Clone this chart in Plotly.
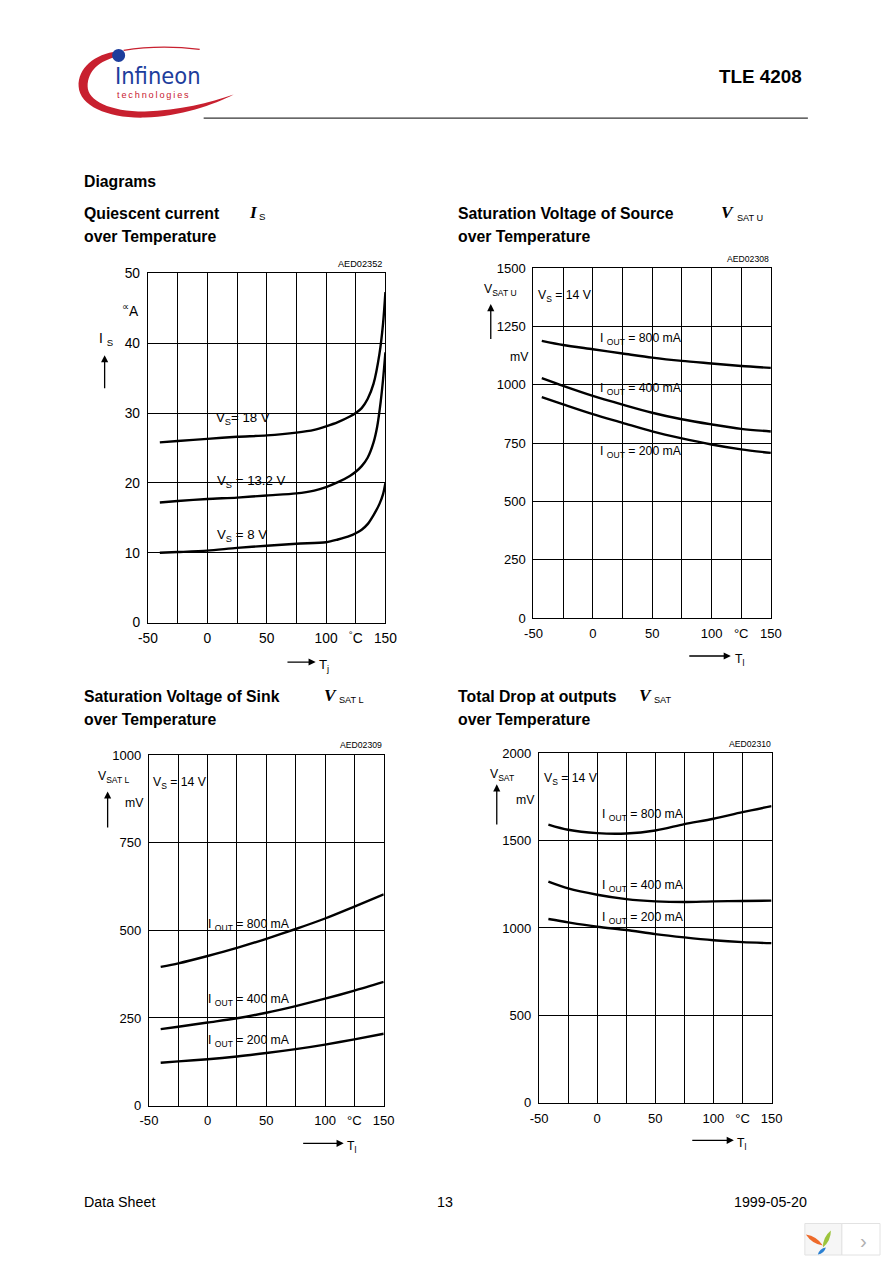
import plotly.graph_objects as go

W, H = 892, 1263
# the photographed page is slightly reduced and shifted; reference pixel -> page pixel
AX, BX = 0.975, 10.4
AY, BY = 0.9855, 8.7
FS = 1.02  # font compensation
FONT = "Liberation Sans, Arial, Helvetica, sans-serif"
SERIF = "Liberation Serif, Times New Roman, serif"
TS = 15.5  # title font size

# ---------------- data ----------------
# Chart 1: quiescent current I_S (uA) vs Tj
t_18v = [-40, -25, 0, 25, 50, 75, 90, 100, 110, 120, 125, 130, 135, 140, 145, 148, 150]
is_18v = [25.8, 26.0, 26.3, 26.6, 26.8, 27.2, 27.6, 28.1, 28.7, 29.5, 30.0, 30.7, 32.0, 34.2, 38.5, 42.8, 47.3]
t_132v = [-40, -25, 0, 25, 50, 75, 90, 100, 110, 120, 125, 130, 135, 140, 143, 146, 148, 150]
is_132v = [17.2, 17.4, 17.7, 17.9, 18.2, 18.5, 18.9, 19.4, 20.1, 21.0, 21.6, 22.4, 23.6, 25.8, 28.0, 31.6, 34.8, 38.7]
t_8v = [-40, -25, 0, 25, 50, 75, 100, 110, 120, 125, 130, 135, 140, 145, 148, 150]
is_8v = [10.0, 10.1, 10.3, 10.7, 11.0, 11.3, 11.5, 11.9, 12.4, 12.8, 13.3, 14.1, 15.4, 17.0, 18.4, 20.0]

# Chart 2: V_SAT U (mV) vs Tj
t_satu = [-43, -25, 0, 25, 50, 75, 100, 125, 150]
satu_800 = [1188, 1170, 1152, 1134, 1116, 1102, 1091, 1080, 1072]
satu_400 = [1028, 995, 952, 915, 880, 852, 830, 811, 800]
satu_200 = [947, 916, 874, 837, 800, 770, 744, 723, 708]

# Chart 3: V_SAT L (mV) vs Tj
t_satl = [-40, -25, 0, 25, 50, 75, 100, 125, 150]
satl_800 = [396, 406, 427, 450, 476, 504, 534, 568, 603]
satl_400 = [218, 225, 237, 249, 265, 284, 305, 328, 353]
satl_200 = [122, 126, 132, 140, 150, 161, 174, 189, 205]

# Chart 4: V_SAT total (mV) vs Tj
t_sat = [-42, -25, 0, 25, 50, 75, 100, 125, 150]
sat_800 = [1591, 1561, 1542, 1540, 1557, 1593, 1624, 1662, 1696]
sat_400 = [1265, 1226, 1190, 1165, 1152, 1148, 1152, 1154, 1156]
sat_200 = [1051, 1032, 1007, 988, 965, 946, 930, 919, 913]

x_ticks = [-50, 0, 50, 100, 125, 150]
x_ticktext_1 = ["-50", "0", "50", "100", "<sup>°</sup>C", "150"]
x_ticktext = ["-50", "0", "50", "100", "°C", "150"]
x_minor = [-25, 25, 75]


def PX(px):
    return ((px - BX) / AX) / W


def PY(py):
    return 1 - ((py - BY) / AY) / H


def fs(s):
    return s * FS


fig = go.Figure()

line_style = dict(color="black", width=2.4, shape="spline", smoothing=0.8)


def add_curve(x, y, ax):
    fig.add_trace(go.Scatter(x=x, y=y, mode="lines", line=line_style,
                             xaxis="x" + ax, yaxis="y" + ax,
                             hoverinfo="skip", showlegend=False))


add_curve(t_18v, is_18v, "")
add_curve(t_132v, is_132v, "")
add_curve(t_8v, is_8v, "")
add_curve(t_satu, satu_800, "2")
add_curve(t_satu, satu_400, "2")
add_curve(t_satu, satu_200, "2")
add_curve(t_satl, satl_800, "3")
add_curve(t_satl, satl_400, "3")
add_curve(t_satl, satl_200, "3")
add_curve(t_sat, sat_800, "4")
add_curve(t_sat, sat_400, "4")
add_curve(t_sat, sat_200, "4")


def xaxis(dom, anchor, ticktext, size):
    return dict(domain=[PX(dom[0]), PX(dom[1])], anchor=anchor, range=[-50, 150],
                tickmode="array", tickvals=x_ticks, ticktext=ticktext,
                showline=True, mirror=True, linecolor="black", linewidth=1.3,
                showgrid=True, gridcolor="black", gridwidth=1, zeroline=False,
                ticks="", ticklabelstandoff=3, fixedrange=True,
                minor=dict(tickmode="array", tickvals=x_minor, showgrid=True,
                           gridcolor="black", gridwidth=1, ticks=""),
                tickfont=dict(family=FONT, size=fs(size), color="black"))


def yaxis(dom, anchor, rng, dtick, size):
    return dict(domain=[PY(dom[1]), PY(dom[0])], anchor=anchor, range=rng,
                tickmode="linear", tick0=0, dtick=dtick,
                showline=True, mirror=True, linecolor="black", linewidth=1.3,
                showgrid=True, gridcolor="black", gridwidth=1, zeroline=False,
                ticks="", ticklabelstandoff=4, fixedrange=True,
                tickfont=dict(family=FONT, size=fs(size), color="black"))


fig.update_layout(
    width=W, height=H, margin=dict(l=0, r=0, t=0, b=0),
    paper_bgcolor="white", plot_bgcolor="white", showlegend=False,
    xaxis=xaxis((148.3, 385.7), "y", x_ticktext_1, 13.5),
    yaxis=yaxis((274.3, 622.7), "x", [0, 50], 10, 13.5),
    xaxis2=xaxis((533.7, 771), "y2", x_ticktext, 12.8),
    yaxis2=yaxis((269, 618.3), "x2", [0, 1500], 250, 12.8),
    xaxis3=xaxis((149.3, 384), "y3", x_ticktext, 12.8),
    yaxis3=yaxis((755, 1104.3), "x3", [0, 1000], 250, 12.8),
    xaxis4=xaxis((539.3, 771.7), "y4", x_ticktext, 12.8),
    yaxis4=yaxis((752.7, 1101.7), "x4", [0, 2000], 500, 12.8),
)

anns = []


def txt(px, py, text, size=12, xanchor="left", yanchor="middle", family=FONT,
        color="black"):
    anns.append(dict(x=PX(px), y=PY(py), xref="paper", yref="paper", text=text,
                     showarrow=False, xanchor=xanchor, yanchor=yanchor,
                     font=dict(family=family, size=fs(size), color=color), borderpad=0))


def arrow(hx, hy, tx, ty):
    anns.append(dict(x=PX(hx), y=PY(hy), xref="paper", yref="paper", text="",
                     showarrow=True, ax=(tx - hx) / AX, ay=(ty - hy) / AY,
                     axref="pixel", ayref="pixel",
                     arrowhead=2, arrowsize=1.1, arrowwidth=1.3, arrowcolor="black",
                     standoff=0, startstandoff=0))


# header
txt(803, 78, "<b>TLE 4208</b>", 18.5, xanchor="right")
txt(114, 78, "Infineon", 23, family="Liberation Sans Narrow, DejaVu Sans Condensed, Arial Narrow, sans-serif",
    color="#1d3d9c")
txt(116, 96, "t\u2009e\u2009c\u2009h\u2009n\u2009o\u2009l\u2009o\u2009g\u2009i\u2009e\u2009s", 9,
    color="#c8202f")

# section titles
txt(83, 183, "<b>Diagrams</b>", TS)
txt(83, 215, "<b>Quiescent current</b>", TS)
txt(83, 238, "<b>over Temperature</b>", TS)
txt(248, 214, "<b><i>I</i></b>", 17, family=SERIF)
txt(258, 218, "S", 9.5)

txt(457, 215, "<b>Saturation Voltage of Source</b>", TS)
txt(457, 238, "<b>over Temperature</b>", TS)
txt(720, 214, "<b><i>V</i></b>", 17, family=SERIF)
txt(736, 219, "SAT U", 9)

txt(83, 696, "<b>Saturation Voltage of Sink</b>", TS)
txt(83, 719, "<b>over Temperature</b>", TS)
txt(323, 695, "<b><i>V</i></b>", 17, family=SERIF)
txt(338, 700, "SAT L", 9)

txt(457, 696, "<b>Total Drop at outputs</b>", TS)
txt(457, 719, "<b>over Temperature</b>", TS)
txt(638, 695, "<b><i>V</i></b>", 17, family=SERIF)
txt(653, 700, "SAT", 9)

# chart codes
txt(383, 265, "AED02352", 9, xanchor="right")
txt(770, 260, "AED02308", 8.5, xanchor="right")
txt(383, 745, "AED02309", 8.5, xanchor="right")
txt(772, 744, "AED02310", 8.5, xanchor="right")

# chart 1 labels
txt(98, 340, "I <sub>S</sub>", 13.5)
arrow(105, 356, 105, 390)
txt(121, 311, "<sup>∝</sup>A", 13.5)
txt(215, 419, "V<sub>S</sub>= 18 V", 13)
txt(216, 482, "V<sub>S</sub> = 13.2 V", 13)
txt(216, 536, "V<sub>S</sub> = 8 V", 13)
arrow(316, 662, 287, 662)
txt(318, 665, "T<sub>j</sub>", 13)

# chart 2 labels
txt(483, 291, "V<sub>SAT U</sub>", 12)
arrow(491, 305, 491, 341)
txt(509, 358, "mV", 12)
txt(537, 297, "V<sub>S</sub> = 14 V", 12)
txt(599, 340, "I <sub>OUT</sub> = 800 mA", 12)
txt(599, 390, "I <sub>OUT</sub> = 400 mA", 12)
txt(599, 453, "I <sub>OUT</sub> = 200 mA", 12)
arrow(731, 656, 689, 656)
txt(734, 660, "T<sub>l</sub>", 12)

# chart 3 labels
txt(97, 777, "V<sub>SAT L</sub>", 12)
arrow(108, 791, 108, 828)
txt(124, 803, "mV", 12)
txt(152, 783, "V<sub>S</sub> = 14 V", 12)
txt(207, 924, "I <sub>OUT</sub> = 800 mA", 12)
txt(207, 999, "I <sub>OUT</sub> = 400 mA", 12)
txt(207, 1040, "I <sub>OUT</sub> = 200 mA", 12)
arrow(344, 1142, 303, 1142)
txt(346, 1146, "T<sub>l</sub>", 12)

# chart 4 labels
txt(489, 775, "V<sub>SAT</sub>", 12)
arrow(497, 784, 497, 825)
txt(515, 800, "mV", 12)
txt(543, 779, "V<sub>S</sub> = 14 V", 12)
txt(601, 815, "I <sub>OUT</sub> = 800 mA", 12)
txt(601, 885, "I <sub>OUT</sub> = 400 mA", 12)
txt(601, 917, "I <sub>OUT</sub> = 200 mA", 12)
arrow(734, 1139, 692, 1139)
txt(736, 1143, "T<sub>l</sub>", 12)

# footer
txt(83, 1201, "Data Sheet", 14)
txt(445, 1201, "13", 14, xanchor="center")
txt(808, 1201, "1999-05-20", 14, xanchor="right")
txt(864, 1239, "›", 20, xanchor="center", color="#b0b0b0")

fig.update_layout(annotations=anns)

# ---------------- decorative shapes ----------------
shapes = []

# white label backgrounds: hide gridlines but stay under the curves
label_boxes = [
    (208, 282, 402, 428), (214, 290, 468, 518), (214, 276, 528, 547),
    (537, 591, 284, 304), (598, 684, 331, 348), (598, 684, 379, 398), (598, 684, 443, 462),
    (151, 205, 772, 793), (206, 293, 915, 933), (206, 293, 990, 1009), (206, 293, 1031, 1050),
    (542, 597, 769, 790), (600, 686, 806, 826), (600, 686, 876, 895), (600, 686, 908, 926),
]
for x0, x1, y0, y1 in label_boxes:
    shapes.append(dict(type="rect", xref="paper", yref="paper", layer="between",
                       x0=PX(x0), x1=PX(x1), y0=PY(y1), y1=PY(y0),
                       fillcolor="white", line=dict(width=0)))


def path(cmds):
    out = []
    for c in cmds:
        if isinstance(c, str):
            out.append(c)
        else:
            out.append(f"{PX(c[0]):.5f},{PY(c[1]):.5f}")
    return " ".join(out)


# red swoosh of the logo
swoosh = path(["M", (118, 53), "C", (95, 55), (78, 70), (79, 88),
               "C", (80, 108), (110, 120), (145, 119),
               "C", (180, 118), (215, 106), (234, 96),
               "C", (210, 104), (180, 112), (145, 113),
               "C", (110, 113), (88, 102), (88, 88),
               "C", (88, 72), (100, 62), (118, 58), "Z"])
shapes.append(dict(type="path", xref="paper", yref="paper", path=swoosh,
                   fillcolor="#c8202f", line=dict(width=0)))
shapes.append(dict(type="path", xref="paper", yref="paper",
                   path=path(["M", (124, 52), "Q", (160, 46), (200, 51)]),
                   line=dict(color="#c8202f", width=1.2)))
shapes.append(dict(type="circle", xref="paper", yref="paper",
                   x0=PX(112.5), x1=PX(125.5), y0=PY(63.5), y1=PY(50.5),
                   fillcolor="#1d3d9c", line=dict(width=0)))
# header rule
shapes.append(dict(type="line", xref="paper", yref="paper",
                   x0=PX(204), x1=PX(808), y0=PY(119.5), y1=PY(119.5),
                   line=dict(color="black", width=1)))

# bottom-right widget
shapes.append(dict(type="rect", xref="paper", yref="paper",
                   x0=PX(805), x1=PX(842), y0=0, y1=PY(1222),
                   fillcolor="#f6f6f6", line=dict(color="#e2e2e2", width=1)))
shapes.append(dict(type="rect", xref="paper", yref="paper",
                   x0=PX(842), x1=1, y0=0, y1=PY(1222),
                   fillcolor="white", line=dict(color="#e2e2e2", width=1)))


def leaf(a, b, w, color):
    mx, my = (a[0] + b[0]) / 2, (a[1] + b[1]) / 2
    dx, dy = b[0] - a[0], b[1] - a[1]
    L = (dx * dx + dy * dy) ** 0.5
    nx, ny = -dy / L * w, dx / L * w
    p = path(["M", a, "Q", (mx + nx, my + ny), b, "Q", (mx - nx, my - ny), a, "Z"])
    shapes.append(dict(type="path", xref="paper", yref="paper", path=p,
                       fillcolor=color, line=dict(width=0)))


leaf((806, 1233), (823, 1244), 4.5, "#ee6a2a")
leaf((831, 1229), (823, 1246), 4.5, "#9cc43c")
leaf((826, 1246), (818, 1253), 3.5, "#2a80d2")

fig.update_layout(shapes=shapes)

fig.write_html("out.html", config={"displayModeBar": False},
               post_script="document.body.style.margin='0';document.body.style.overflow='hidden';")
